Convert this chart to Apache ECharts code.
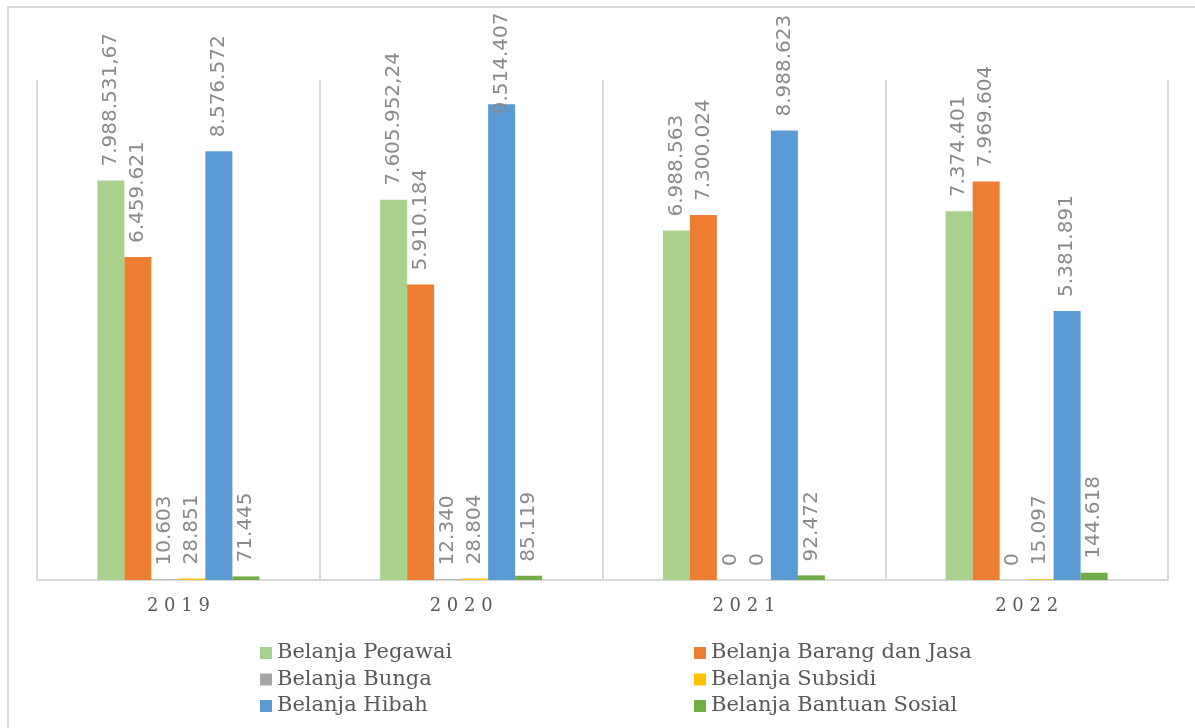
<!DOCTYPE html>
<html>
<head>
<meta charset="utf-8">
<script src="https://cdn.jsdelivr.net/npm/echarts@6/dist/echarts.min.js"></script>
<style>
  html, body { margin: 0; padding: 0; background: #fff; }
  #chart { width: 1195px; height: 728px; }
</style>
</head>
<body>
<div id="chart"></div>
<script>
const years = ['2019', '2020', '2021', '2022']
const pegawai = [7988531.67, 7605952.24, 6988563, 7374401]
const barangJasa = [6459621, 5910184, 7300024, 7969604]
const bunga = [10603, 12340, 0, 0]
const subsidi = [28851, 28804, 0, 15097]
const hibah = [8576572, 9514407, 8988623, 5381891]
const bansos = [71445, 85119, 92472, 144618]

// angka format Indonesia: titik ribuan, koma desimal
const fmtId = (v) => {
  const parts = String(v).split('.')
  const int = parts[0].replace(/\B(?=(\d{3})+(?!\d))/g, '.')
  return parts[1] ? int + ',' + parts[1] : int
}

const serif = '"DejaVu Serif", "Liberation Serif", serif'

// label yang terlalu tinggi digeser turun supaya tetap di dalam area chart
const fitLabel = (v) => (v > 9300000 ? { value: v, label: { distance: -10 } } : v)

const makeSeries = (name, data, color) => ({
  name,
  type: 'bar',
  data: data.map(fitLabel),
  barWidth: 27,
  barGap: '0%',
  itemStyle: { color },
  label: {
    show: true,
    position: 'top',
    rotate: 90,
    align: 'left',
    verticalAlign: 'middle',
    distance: 14,
    color: '#8a8a8a',
    fontSize: 20,
    fontFamily: '"DejaVu Sans", sans-serif',
    formatter: (p) => fmtId(p.value)
  }
})

const legendCommon = {
  orient: 'vertical',
  icon: 'rect',
  itemWidth: 12,
  itemHeight: 12,
  itemGap: 4.5,
  top: 637,
  textStyle: { color: '#595959', fontSize: 21, fontFamily: serif, lineHeight: 22 }
}

const chart = echarts.init(document.getElementById('chart'), null, { renderer: 'canvas' })
chart.setOption({
  animation: false,
  backgroundColor: '#fff',
  graphic: [{
    type: 'rect',
    shape: { x: 8, y: 7, width: 1220, height: 800 },
    style: { fill: 'none', stroke: '#d9d9d9', lineWidth: 2 },
    silent: true
  }],
  legend: [
    Object.assign({ left: 255, data: ['Belanja Pegawai', 'Belanja Bunga', 'Belanja Hibah'] }, legendCommon),
    Object.assign({ left: 689, data: ['Belanja Barang dan Jasa', 'Belanja Subsidi', 'Belanja Bantuan Sosial'] }, legendCommon)
  ],
  grid: { left: 37, right: 27, top: 80, bottom: 148, containLabel: false },
  xAxis: {
    type: 'category',
    data: years,
    axisLine: { lineStyle: { color: '#d9d9d9', width: 2 } },
    axisTick: { show: false },
    splitLine: { show: true, lineStyle: { color: '#d9d9d9', width: 2 } },
    axisLabel: {
      color: '#595959',
      fontSize: 18,
      fontFamily: serif,
      margin: 17,
      formatter: (v) => v.split('').join(' ')
    }
  },
  yAxis: {
    type: 'value',
    min: 0,
    max: 10000000,
    show: false,
    splitLine: { show: false }
  },
  series: [
    makeSeries('Belanja Pegawai', pegawai, '#a9d18e'),
    makeSeries('Belanja Barang dan Jasa', barangJasa, '#ed7d31'),
    makeSeries('Belanja Bunga', bunga, '#a5a5a5'),
    makeSeries('Belanja Subsidi', subsidi, '#ffc000'),
    makeSeries('Belanja Hibah', hibah, '#5b9bd5'),
    makeSeries('Belanja Bantuan Sosial', bansos, '#70ad47')
  ]
})
window.addEventListener('resize', chart.resize)
</script>
</body>
</html>
